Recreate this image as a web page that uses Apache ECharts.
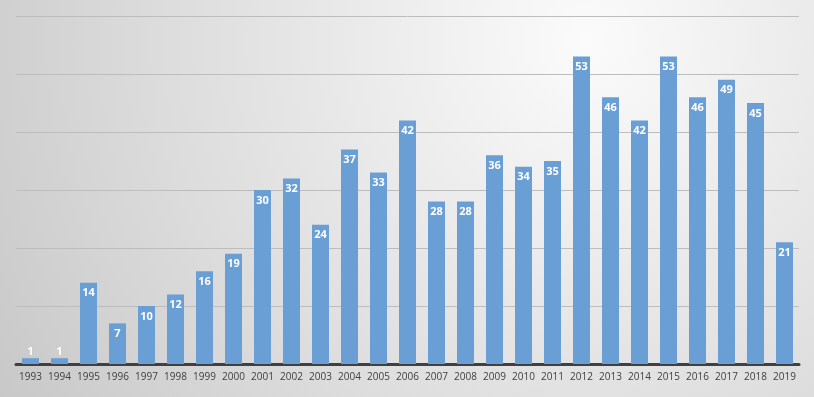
<!DOCTYPE html>
<html>
<head>
<meta charset="utf-8">
<script src="https://cdn.jsdelivr.net/npm/echarts@6/dist/echarts.min.js"></script>
<style>
  html, body { margin: 0; padding: 0; }
  #chart { width: 814px; height: 397px; }
</style>
</head>
<body>
<div id="chart"></div>
<script>
var years = ['1993', '1994', '1995', '1996', '1997', '1998', '1999', '2000', '2001', '2002',
  '2003', '2004', '2005', '2006', '2007', '2008', '2009', '2010', '2011', '2012',
  '2013', '2014', '2015', '2016', '2017', '2018', '2019']
var counts = [1, 1, 14, 7, 10, 12, 16, 19, 30, 32,
  24, 37, 33, 42, 28, 28, 36, 34, 35, 53,
  46, 42, 53, 46, 49, 45, 21]

var barData = counts.map(function (v) {
  // tiny bars get the label above them
  return v < 3 ? { value: v, label: { position: 'top', distance: 1 } } : v
})

var chart = echarts.init(document.getElementById('chart'))
chart.setOption({
  backgroundColor: {
    type: 'radial',
    x: 0.72, y: 0.1, r: 1.8,
    colorStops: [
      { offset: 0, color: '#fbfbfb' },
      { offset: 0.6, color: '#dcdcdc' },
      { offset: 1, color: '#c6c6c6' }
    ]
  },
  animation: false,
  grid: { left: 16, right: 15, top: 16, bottom: 33 },
  xAxis: {
    type: 'category',
    data: years,
    axisLine: { lineStyle: { color: '#404040', width: 3 } },
    axisTick: { show: false },
    axisLabel: { interval: 0, color: '#404040', fontSize: 10, fontFamily: 'Open Sans', margin: 8 }
  },
  yAxis: {
    type: 'value',
    min: 0,
    max: 60,
    interval: 10,
    axisLabel: { show: false },
    axisLine: { show: false },
    axisTick: { show: false },
    splitLine: { lineStyle: { color: '#bdbdbd', width: 1 } }
  },
  series: [{
    type: 'bar',
    data: barData,
    barWidth: 17,
    itemStyle: { color: '#6a9fd6' },
    label: {
      show: true,
      position: 'insideTop',
      distance: 5,
      color: '#ffffff',
      fontWeight: 'bold',
      fontSize: 11,
      fontFamily: 'Open Sans'
    }
  }]
})
</script>
</body>
</html>
